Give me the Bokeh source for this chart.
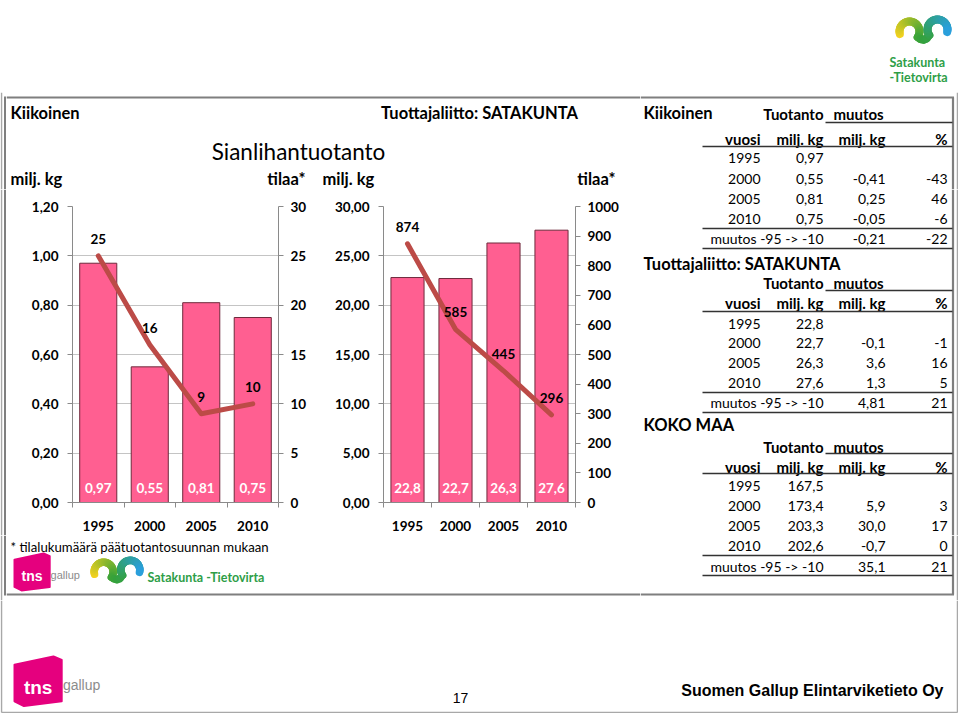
import numpy as np
from bokeh.plotting import figure
from bokeh.models import Range1d, LinearAxis, FixedTicker, CustomJSTickFormatter
from bokeh.layouts import row, column
from bokeh.core.properties import value
from bokeh.embed import file_html
from bokeh.resources import INLINE

# ---------------- data ----------------
years = ["1995", "2000", "2005", "2010"]

kiik_prod = [0.97, 0.55, 0.81, 0.75]          # milj. kg
kiik_farms = [25, 16, 9, 10]                  # tilaa
sata_prod = [22.8, 22.7, 26.3, 27.6]          # milj. kg
sata_farms = [874, 585, 445, 296]             # tilaa

kiik_left_ticks = [0, 0.2, 0.4, 0.6, 0.8, 1.0, 1.2]
kiik_right_ticks = [0, 5, 10, 15, 20, 25, 30]
sata_left_ticks = [0, 5, 10, 15, 20, 25, 30]
sata_right_ticks = [0, 100, 200, 300, 400, 500, 600, 700, 800, 900, 1000]

kiik_chg = [None, -0.41, 0.25, -0.05]
kiik_pct = [None, -43, 46, -6]
kiik_tot_chg, kiik_tot_pct = -0.21, -22

sata_chg = [None, -0.1, 3.6, 1.3]
sata_pct = [None, -1, 16, 5]
sata_tot_chg, sata_tot_pct = 4.81, 21

koko_prod = [167.5, 173.4, 203.3, 202.6]
koko_chg = [None, 5.9, 30.0, -0.7]
koko_pct = [None, 3, 17, 0]
koko_tot_chg, koko_tot_pct = 35.1, 21

# ---------------- style ----------------
FONT = "Lato"
PINK = "#FF5F91"
OUTLINE = "#6E2A3C"
LINECOL = "#BC4B47"
GRID = "#C4C4C4"
AXIS = "#8A8A8A"
BORDER = "#7F7F7F"
LIGHT = "#A8A8A8"
GREEN = "#2E9E47"
MAGENTA = "#E5007E"

W, HGT = 958, 713
BOX_T, BOX_B = 97, 594
Y_TOP, Y_C0, Y_C1, Y_BOT = 92, 189, 535, 600
FRAME_T, FRAME_B = 206, 502
X_SPLIT = 640


def fmt(v, d):
    return f"{v:.{d}f}".replace(".", ",")


# ---------------- scene of static elements, in page pixel coordinates ----------------
scene = []


def T(x, y, s, size=13, bold=False, align="left", color="#000000", font=FONT):
    scene.append(("t", x, y, s, size, bold, align, color, font))


def H(x0, x1, y, color="#333333", w=1.3):
    scene.append(("h", x0, x1, y, color, w))


def V(x, y0, y1, color=BORDER, w=2):
    scene.append(("v", x, y0, y1, color, w))


def LOGO(kind, x0, y0, cx, cy, *args):
    scene.append(("logo", kind, x0, y0, cx, cy) + tuple(args))


def lerp_col(t):
    stops = [(0.0, (244, 210, 31)), (0.5, (53, 162, 58)), (1.0, (42, 159, 219))]
    for (t0, c0), (t1, c1) in zip(stops[:-1], stops[1:]):
        if t <= t1:
            f = (t - t0) / (t1 - t0)
            c = [int(c0[k] + (c1[k] - c0[k]) * f) for k in range(3)]
            return "#%02x%02x%02x" % tuple(c)
    return "#%02x%02x%02x" % stops[-1][1]


def draw_text(p, x, y, s, size, bold, align, color, font):
    p.text(x=[x], y=[y], text=[s], text_font=value(font),
           text_font_size=f"{size}px",
           text_font_style="bold" if bold else "normal",
           text_align=align, text_baseline="middle", text_color=color)


def draw_wave(p, x0, y0, s=1.0, lw=8):
    pts = []
    for th in np.linspace(195, -35, 26):
        r = np.radians(th)
        pts.append((16 + 10 * np.cos(r), 15 - 10 * np.sin(r)))
    for tx, ty in [(27, 22.5), (30, 23.2), (33, 22)]:
        pts.append((tx, ty))
    for th in np.linspace(215, -15, 26):
        r = np.radians(th)
        pts.append((44 + 10 * np.cos(r), 13 - 10 * np.sin(r)))
    pts = [(x0 + px * s, y0 + py * s) for px, py in pts]
    n = len(pts) - 1
    xs = [[pts[i][0], pts[i + 1][0]] for i in range(n)]
    ys = [[pts[i][1], pts[i + 1][1]] for i in range(n)]
    cols = [lerp_col(i / (n - 1)) for i in range(n)]
    p.multi_line(xs=xs, ys=ys, line_color=cols, line_width=lw * s, line_cap="round")


def draw_tns(p, x0, y0, s, tsize, gsize):
    poly = [(0, 7), (33, 0), (40, 3), (40, 38), (8, 42), (0, 38)]
    p.patch(x=[x0 + a * s for a, b in poly], y=[y0 + b * s for a, b in poly],
            fill_color=MAGENTA, line_color=MAGENTA, line_join="round", line_width=2)
    draw_text(p, x0 + 8 * s, y0 + 26 * s, "tns", tsize, True, "left", "#FFFFFF", "Liberation Sans")
    draw_text(p, x0 + 41 * s, y0 + 24 * s, "gallup", gsize, False, "left", "#8C8C8C", "Liberation Sans")


def canvas(x0, x1, y0, y1):
    p = figure(width=int(x1 - x0), height=int(y1 - y0),
               x_range=Range1d(x0, x1), y_range=Range1d(y1, y0),
               x_axis_type=None, y_axis_type=None,
               output_backend="svg", toolbar_location=None,
               min_border=0, min_border_left=0, min_border_right=0,
               min_border_top=0, min_border_bottom=0, frame_align=False)
    p.outline_line_color = None
    p.grid.visible = False
    p.background_fill_color = "white"
    p.border_fill_color = "white"
    for el in scene:
        k = el[0]
        if k == "t":
            _, x, y, s, size, bold, align, color, font = el
            if x0 <= x < x1 and y0 <= y < y1:
                draw_text(p, x, y, s, size, bold, align, color, font)
        elif k == "h":
            _, a, b, y, color, w = el
            if y0 <= y < y1 and b > x0 and a < x1:
                p.line(x=[max(a, x0), min(b, x1)], y=[y, y], line_color=color, line_width=w)
        elif k == "v":
            _, x, a, b, color, w = el
            if x0 <= x < x1 and b > y0 and a < y1:
                p.line(x=[x, x], y=[max(a, y0), min(b, y1)], line_color=color, line_width=w)
        elif k == "logo":
            _, kind, lx, ly, cx, cy = el[:6]
            if x0 <= cx < x1 and y0 <= cy < y1:
                if kind == "wave":
                    draw_wave(p, lx, ly, *el[6:])
                else:
                    draw_tns(p, lx, ly, *el[6:])
    return p


def bar_chart(width, mbl, mbr, prod, farms, lticks, rticks, bar_w, dec_bar):
    idx = list(range(len(years)))
    p = figure(width=width, height=Y_C1 - Y_C0,
               x_range=Range1d(-0.5, len(years) - 0.5),
               y_range=Range1d(lticks[0], lticks[-1]),
               output_backend="svg", toolbar_location=None,
               min_border_left=mbl, min_border_right=mbr,
               min_border_top=FRAME_T - Y_C0, min_border_bottom=Y_C1 - FRAME_B,
               frame_align=False)
    p.outline_line_color = None
    p.background_fill_color = "white"
    p.border_fill_color = "white"
    p.extra_y_ranges = {"r": Range1d(rticks[0], rticks[-1])}
    p.xgrid.visible = False
    p.ygrid.ticker = FixedTicker(ticks=lticks)
    p.ygrid.grid_line_color = GRID
    p.ygrid.grid_line_width = 1

    def style(ax):
        ax.axis_line_color = AXIS
        ax.major_tick_line_color = AXIS
        ax.major_tick_out = 5
        ax.major_tick_in = 0
        ax.minor_tick_line_color = None
        ax.major_label_text_font = FONT
        ax.major_label_text_font_style = "bold"
        ax.major_label_text_font_size = "13.5px"
        ax.major_label_text_color = "#000000"

    yl = p.yaxis[0]
    yl.ticker = FixedTicker(ticks=lticks)
    yl.formatter = CustomJSTickFormatter(code="return tick.toFixed(2).replace('.', ',');")
    style(yl)
    yl.major_label_standoff = 9

    yr = LinearAxis(y_range_name="r", ticker=FixedTicker(ticks=rticks))
    style(yr)
    yr.major_label_standoff = 7
    p.add_layout(yr, "right")

    xa = p.xaxis[0]
    xa.ticker = FixedTicker(ticks=idx, minor_ticks=[i - 0.5 for i in range(len(years) + 1)])
    xa.major_label_overrides = {i: y for i, y in enumerate(years)}
    style(xa)
    xa.major_tick_line_color = None
    xa.major_tick_out = 0
    xa.minor_tick_line_color = AXIS
    xa.minor_tick_out = 5
    xa.minor_tick_in = 0
    xa.major_label_standoff = 13

    p.vbar(x=idx, top=prod, width=bar_w, fill_color=PINK, line_color=OUTLINE, line_width=1)
    p.line(x=idx, y=farms, y_range_name="r", line_color=LINECOL, line_width=5,
           line_join="round", line_cap="round")
    p.text(x=idx, y=farms, text=[str(v) for v in farms], y_range_name="r",
           y_offset=-17, text_align="center", text_baseline="middle",
           text_font=value(FONT), text_font_style="bold", text_font_size="13.5px",
           text_color="#000000")
    p.text(x=idx, y=[lticks[0]] * len(idx), text=[fmt(v, dec_bar) for v in prod],
           y_offset=-15, text_align="center", text_baseline="middle",
           text_font=value(FONT), text_font_style="bold", text_font_size="13.5px",
           text_color="#FFFFFF")
    return p


# ---------------- build the scene ----------------
# slide / box borders
V(1, Y_TOP, HGT - 1, LIGHT, 1.5)
V(957, Y_TOP, HGT - 1, LIGHT, 1.5)
H(1, 957, HGT - 1, LIGHT, 1.5)
V(4.5, BOX_T, BOX_B, BORDER, 2)
V(952.5, BOX_T, BOX_B, BORDER, 2.2)
H(3.5, 953.5, BOX_T, BORDER, 2.2)
H(3.5, 953.5, BOX_B, BORDER, 2.2)

# header logo
LOGO("wave", 893, 16, 923, 30, 1.0, 8)
T(889, 62, "Satakunta", 12.5, True, "left", GREEN)
T(889, 77, "-Tietovirta", 12.5, True, "left", GREEN)

# left part texts
T(10, 112, "Kiikoinen", 16.5, True)
T(479, 112, "Tuottajaliitto: SATAKUNTA", 16.5, True, "center")
T(298, 151, "Sianlihantuotanto", 22.5, False, "center")
T(10, 178, "milj. kg", 16.5, True)
T(305, 178, "tilaa*", 16.5, True, "right")
T(322, 178, "milj. kg", 16.5, True)
T(615, 178, "tilaa*", 16.5, True, "right")
T(10, 546, "* tilalukumäärä päätuotantosuunnan mukaan", 13.2, False)
LOGO("tns", 14, 553, 30, 570, 0.88, 14, 11)
LOGO("wave", 88, 557, 115, 572, 0.95, 8)
T(147, 577, "Satakunta -Tietovirta", 12.5, True, "left", GREEN)

# tables
COLX = [760, 823, 885, 947]
HS = 15     # header font size
RS = 14     # row font size


def table(title, ys, prod, dprod, chg, dchg, pct, tot_chg, dtot, tot_pct):
    T(643, ys["title"], title, 16.5, True)
    T(COLX[1], ys["tuot"], "Tuotanto", HS, True, "right")
    T(833, ys["tuot"], "muutos", HS, True)
    H(825, 952, ys["mline"])
    T(COLX[0], ys["hdr"], "vuosi", HS, True, "right")
    T(COLX[1], ys["hdr"], "milj. kg", HS, True, "right")
    T(COLX[2], ys["hdr"], "milj. kg", HS, True, "right")
    T(COLX[3], ys["hdr"], "%", HS, True, "right")
    H(702, 952, ys["hline"])
    for i, yr in enumerate(years):
        y = ys["rows"][i]
        T(COLX[0], y, yr, RS, False, "right")
        T(COLX[1], y, fmt(prod[i], dprod), RS, False, "right")
        if chg[i] is not None:
            T(COLX[2], y, fmt(chg[i], dchg), RS, False, "right")
            T(COLX[3], y, str(pct[i]), RS, False, "right")
    H(702, 952, ys["line2"])
    T(COLX[1], ys["tot"], "muutos -95 -> -10", RS, False, "right")
    T(COLX[2], ys["tot"], fmt(tot_chg, dtot), RS, False, "right")
    T(COLX[3], ys["tot"], str(tot_pct), RS, False, "right")
    H(702, 952, ys["line3"])


sec1 = dict(title=112, tuot=113, mline=122, hdr=138, hline=146,
            rows=[157, 178, 198, 218], line2=228, tot=238, line3=248)
sec2 = dict(title=263, tuot=282, mline=290, hdr=302, hline=311,
            rows=[323, 342, 362, 382], line2=392, tot=402, line3=412)
sec3 = dict(title=424, tuot=446, mline=453, hdr=466, hline=473,
            rows=[485, 505, 525, 545], line2=555, tot=566, line3=575)

table("Kiikoinen", sec1, kiik_prod, 2, kiik_chg, 2, kiik_pct, kiik_tot_chg, 2, kiik_tot_pct)
table("Tuottajaliitto: SATAKUNTA", sec2, sata_prod, 1, sata_chg, 1, sata_pct,
      sata_tot_chg, 2, sata_tot_pct)
table("KOKO MAA", sec3, koko_prod, 1, koko_chg, 1, koko_pct, koko_tot_chg, 1, koko_tot_pct)

# footer
LOGO("tns", 14, 656, 37, 680, 1.18, 19, 14)
T(460, 697, "17", 14, False, "center", "#000000", "Liberation Sans")
T(943, 690, "Suomen Gallup Elintarviketieto Oy", 16, True, "right", "#000000", "Liberation Sans")

# ---------------- layout ----------------
header = canvas(0, W, 0, Y_TOP)
bands = []
for bi, (ya, yb) in enumerate([(Y_TOP, Y_C0), (Y_C0, Y_C1), (Y_C1, Y_BOT)]):
    e = canvas(0, 6, ya, yb)
    t = canvas(X_SPLIT, W, ya, yb)
    if bi == 1:
        c1 = bar_chart(314, 66, 42, kiik_prod, kiik_farms, kiik_left_ticks, kiik_right_ticks, 0.72, 2)
        c2 = bar_chart(320, 63, 65, sata_prod, sata_farms, sata_left_ticks, sata_right_ticks, 0.69, 1)
        bands.append(row(e, c1, c2, t))
    else:
        bands.append(row(e, canvas(6, X_SPLIT, ya, yb), t))
footer = canvas(0, W, Y_BOT, HGT)

page = column(header, *bands, footer)

open("out.html", "w").write(file_html(page, INLINE))
